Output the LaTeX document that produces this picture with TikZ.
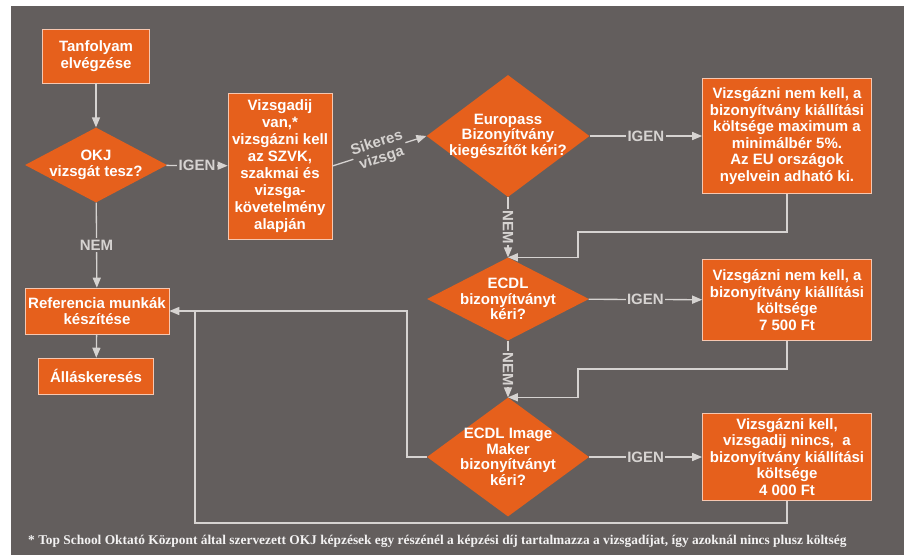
\documentclass[tikz,border=0pt]{standalone}
\usepackage{fontspec}
\setmainfont{Liberation Serif}
\setsansfont{Liberation Sans}
\usetikzlibrary{arrows}
\usetikzlibrary{shapes.geometric}
\definecolor{fondo}{RGB}{99,94,93}
\definecolor{naranja}{RGB}{230,96,28}
\definecolor{linea}{RGB}{214,211,209}

\begin{document}
\begin{tikzpicture}[x=1pt,y=-1pt,>=triangle 45,
	caja/.style={fill=naranja,draw=naranja!35!white,line width=0.8pt,inner sep=0pt,text=white,align=center,font=\sffamily\bfseries\fontsize{15}{16.5}\selectfont},
	rombo/.style={diamond,fill=naranja,inner sep=0pt},
	texto/.style={text=white,align=center,inner sep=0pt,font=\sffamily\bfseries\fontsize{15}{15.5}\selectfont},
	flecha/.style={draw=linea,line width=1.3pt,->},
	etiq/.style={fill=fondo,text=linea,inner sep=1.5pt,font=\sffamily\bfseries\fontsize{15}{16}\selectfont}]
	\useasboundingbox (0,0) rectangle (904,555);
	\fill[fondo] (11,6) rectangle (904,555); %fondo gris
	\node[caja,minimum width=107,minimum height=54] (tanfolyam) at (96,56) {Tanfolyam\\elvégzése}; %caja inicial
	\node[rombo,minimum width=142,minimum height=75] (okj) at (96,165) {}; %rombo OKJ
	\node[texto] (okjtxt) at (okj) {OKJ\\vizsgát tesz?};
	\node[caja,minimum width=104,minimum height=146,font=\sffamily\bfseries\fontsize{15}{17}\selectfont] (vizsgadij) at (280,166) {Vizsgadij\\van,*\\vizsgázni kell\\az SZVK,\\szakmai és\\vizsga-\\követelmény\\alapján};
	\node[caja,minimum width=144,minimum height=46] (referencia) at (97,311) {Referencia munkák\\készítése};
	\node[caja,minimum width=115,minimum height=36] (allas) at (96,376) {Álláskeresés};
	\node[rombo,minimum width=163,minimum height=122] (europass) at (508,136) {}; %rombo Europass
	\node[texto] (europasstxt) at (europass) {Europass\\Bizonyítvány\\kiegészítőt kéri?};
	\node[caja,minimum width=169,minimum height=115] (koltseg1) at (787,136) {Vizsgázni nem kell, a\\bizonyítvány kiállítási\\költsége maximum a\\minimálbér 5\%.\\Az EU országok\\nyelvein adható ki.};
	\node[rombo,minimum width=162,minimum height=83] (ecdl) at (508,299) {}; %rombo ECDL
	\node[texto] (ecdltxt) at (ecdl) {ECDL\\bizonyítványt\\kéri?};
	\node[caja,minimum width=169,minimum height=81] (koltseg2) at (787,300) {Vizsgázni nem kell, a\\bizonyítvány kiállítási\\költsége\\7 500 Ft};
	\node[rombo,minimum width=162,minimum height=119] (image) at (508,457) {}; %rombo Image Maker
	\node[texto] (imagetxt) at (image) {ECDL Image\\Maker\\bizonyítványt\\kéri?};
	\node[caja,minimum width=169,minimum height=87] (koltseg3) at (787,457) {Vizsgázni kell,\\vizsgadij nincs,~ a\\bizonyítvány kiállítási\\költsége\\4 000 Ft};
	\coordinate (k1) at (578,232); %quiebres de las lineas de vuelta
	\coordinate (k2) at (578,369);
	\coordinate (v1) at (407,457);
	\coordinate (v2) at (195,523);
	\draw[flecha] (tanfolyam) -- (okj);
	\draw[flecha] (okj) -- node[etiq]{IGEN} (vizsgadij);
	\draw[flecha] (okj) -- node[etiq]{NEM} (referencia);
	\draw[flecha] (referencia) -- (allas);
	\draw[flecha] (vizsgadij.east) -- node[etiq,sloped,align=center,inner sep=0.5pt]{Sikeres\\vizsga} (europass.west);
	\draw[flecha] (europass) -- node[etiq]{IGEN} (koltseg1);
	\draw[flecha] (ecdl) -- node[etiq]{IGEN} (koltseg2);
	\draw[flecha] (image) -- node[etiq]{IGEN} (koltseg3);
	\draw[flecha] (europass) -- node[etiq,rotate=-90]{NEM} (ecdl);
	\draw[flecha] (ecdl) -- node[etiq,rotate=-90]{NEM} (image);
	\draw[flecha] (koltseg1.south) |- (k1) |- (ecdl.north); %vuelta a ECDL
	\draw[flecha] (koltseg2.south) |- (k2) |- (image.north); %vuelta a Image Maker
	\draw[flecha] (image.west) -- (v1) |- (referencia.east); %vuelta a referencia
	\draw[draw=linea,line width=1.3pt] (koltseg3.south) |- (v2) -- (v2 |- referencia.east);
	\node[anchor=west,text=white!92!fondo,inner sep=0pt,font=\rmfamily\bfseries\fontsize{13.4}{15}\selectfont] (nota) at (28,541) {* Top School Oktató Központ által szervezett OKJ képzések egy részénél a képzési díj tartalmazza a vizsgadíjat, így azoknál nincs plusz költség}; %nota al pie
\end{tikzpicture}
\end{document}
